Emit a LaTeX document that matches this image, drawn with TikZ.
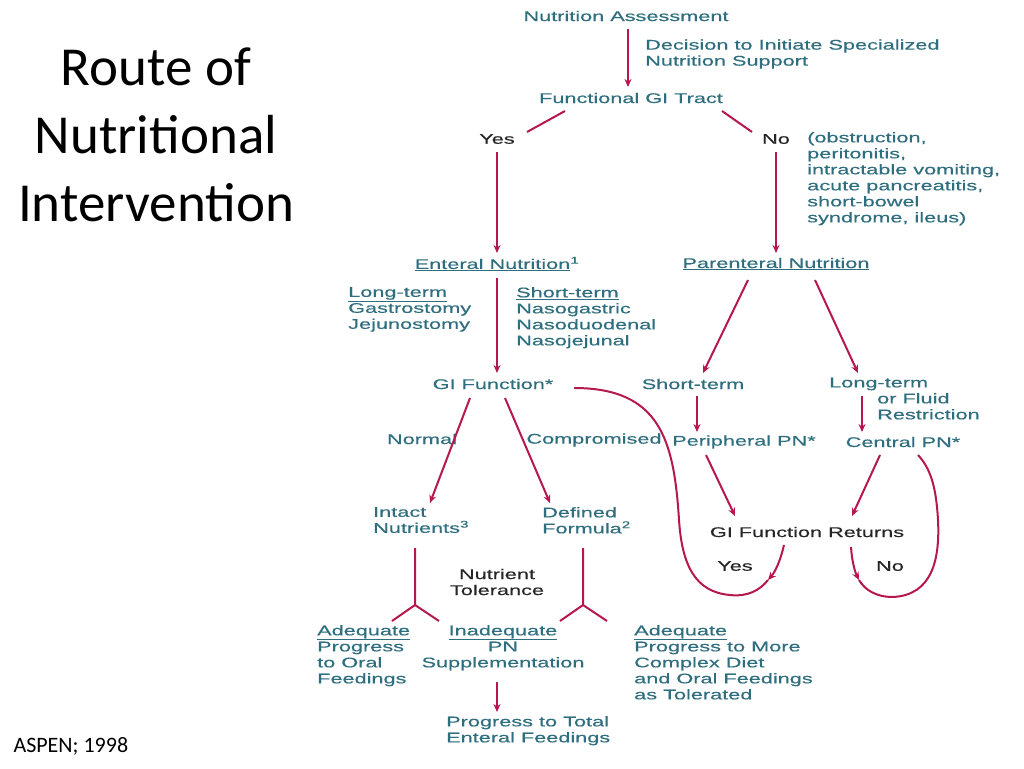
\documentclass[tikz,border=0pt]{standalone}
\usepackage{fontspec}
\setmainfont{Carlito}
\newfontfamily\dfont[FakeStretch=1.55,FakeBold=0.3]{Liberation Sans}
\usetikzlibrary{arrows.meta}
\definecolor{teal}{HTML}{2E6E7E}
\definecolor{arr}{HTML}{B5174E}
\begin{document}
\begin{tikzpicture}[x=1pt,y=-1pt,
  t/.style={font=\dfont\fontsize{14}{16}\selectfont,text=teal,inner sep=0pt,align=left},
  tb/.style={t,text=black!85},
  ln/.style={draw=arr,line width=2pt},
  ar/.style={ln,-{Stealth[length=8pt,width=7pt]}}]
\useasboundingbox (0,0) rectangle (1024,768);
% title
\node[font=\fontsize{55}{68}\selectfont,align=center] (title) at (156,135) {Route of\\Nutritional\\Intervention};
\node[font=\fontsize{22}{24}\selectfont,anchor=west] (src) at (10,746) {ASPEN; 1998};
% nodes
\node[t] (na) at (626,16) {Nutrition Assessment};
\node[t,anchor=west] (dec) at (645,54) {Decision to Initiate Specialized\\Nutrition Support};
\node[t] (fgi) at (631,98) {Functional GI Tract};
\node[tb] (yes) at (497,139) {Yes};
\node[tb] (no) at (776,139) {No};
\node[t,anchor=north west] (why) at (807,132) {(obstruction,\\peritonitis,\\intractable vomiting,\\acute pancreatitis,\\short-bowel\\syndrome, ileus)};
\node[t] (en) at (497,264) {\underline{Enteral Nutrition}\textsuperscript{1}};
\node[t] (pn) at (776,264) {\underline{Parenteral Nutrition}};
\node[t,anchor=north west] (lt) at (348,287) {\underline{Long-term}\\Gastrostomy\\Jejunostomy};
\node[t,anchor=north west] (st) at (516,287) {\underline{Short-term}\\Nasogastric\\Nasoduodenal\\Nasojejunal};
\node[t] (gif) at (493,384) {GI Function*};
\node[t] (pst) at (693,384) {Short-term};
\node[t,anchor=west] (plt) at (829,384) {Long-term};
\node[t,anchor=north west] (flu) at (877,393) {or Fluid\\Restriction};
\node[t] (ppn) at (744,442) {Peripheral PN*};
\node[t] (cpn) at (903,442) {Central PN*};
\node[t] (normal) at (422,439) {Normal};
\node[t] (comp) at (594,440) {Compromised};
\node[t,anchor=north west] (intact) at (373,507) {Intact\\Nutrients\textsuperscript{3}};
\node[t,anchor=north west] (defined) at (542,507) {Defined\\Formula\textsuperscript{2}};
\node[tb] (gifr) at (807,532) {GI Function Returns};
\node[tb] (yes2) at (735,566) {Yes};
\node[tb] (no2) at (890,566) {No};
\node[tb,align=center] (tol) at (497,582) {Nutrient\\Tolerance};
\node[t,anchor=north west] (adq1) at (317,625) {\underline{Adequate}\\Progress\\to Oral\\Feedings};
\node[t,align=center,anchor=north] (inad) at (503,625) {\underline{Inadequate}\\PN\\Supplementation};
\node[t,anchor=north west] (adq2) at (634,625) {\underline{Adequate}\\Progress to More\\Complex Diet\\and Oral Feedings\\as Tolerated};
\node[t,anchor=north west] (tot) at (446,716) {Progress to Total\\Enteral Feedings};
% coordinates
\coordinate (f1) at (415,605); \coordinate (f2) at (583,605);
\coordinate (ym) at (768,580); \coordinate (nm) at (859,580);
% connectors
\draw[ar] (628,29) -- (628,87);
\draw[ln] (565,111) -- (527,132);
\draw[ln] (722,111) -- (752,132);
\draw[ar] (497,152) -- (497,253);
\draw[ar] (776,152) -- (776,253);
\draw[ar] (497,278) -- (497,373);
\draw[ar] (748,280) -- (703,373);
\draw[ar] (815,280) -- (858,373);
\draw[ar] (697,396) -- (697,432);
\draw[ar] (862,396) -- (862,432);
\draw[ar] (470,398) -- (430,503);
\draw[ar] (505,398) -- (550,503);
\draw[ar] (706,455) -- (735,516);
\draw[ar] (880,455) -- (852,516);
\draw[ar] (784,545) .. controls (780,562) and (775,572) .. (ym);
\draw[ln] (ym) .. controls (760,590) and (748,597) .. (730,595)
  .. controls (695,592) and (682,565) .. (679,520) .. controls (674,440) and (660,388) .. (574,388);
\draw[ar] (851,547) .. controls (852,562) and (855,572) .. (nm);
\draw[ln] (nm) .. controls (865,590) and (876,597) .. (893,597)
  .. controls (932,595) and (940,560) .. (938,520) .. controls (936,485) and (930,468) .. (918,455);
\draw[ln] (415,548) -- (f1) -- (392,621) (f1) -- (439,621);
\draw[ln] (583,548) -- (f2) -- (560,621) (f2) -- (607,621);
\draw[ar] (497,682) -- (497,712);
\end{tikzpicture}
\end{document}
